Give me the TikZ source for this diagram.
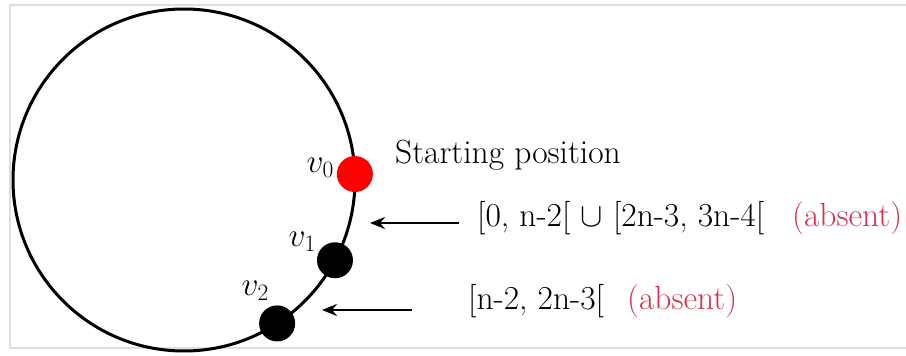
\RequirePackage{fix-cm}
\documentclass[tikz,border=0pt]{standalone}
\usetikzlibrary{arrows.meta}
\definecolor{absentred}{RGB}{218,48,78}
\definecolor{framegray}{RGB}{222,222,222}
\begin{document}
\begin{tikzpicture}[x=1pt,y=-1pt,
  dot/.style={circle,inner sep=0pt,minimum size=36pt},
  lbl/.style={font=\fontsize{33.5}{40}\selectfont,inner sep=0pt},
  arr/.style={line width=2.6pt,-{Stealth[length=15pt,width=12pt]}},
  ring/.style={circle,draw,line width=3pt,minimum size=342pt,inner sep=0pt,outer sep=0pt}]
\useasboundingbox (0,0) rectangle (906,356);
\draw[framegray,line width=1.2pt] (906,5) -- (10,5) -- (10,348) -- (906,348);
\node[ring] (ring) at (184,180) {};
\node[dot,fill=red] (v0) at (ring.2.4) {};
\node[dot,fill=black] (v1) at (ring.-28) {};
\node[dot,fill=black] (v2) at (ring.-57.9) {};
\node[lbl,anchor=base east] (l0) at (334,172) {$v_0$};
\node[lbl,anchor=base east] (l1) at (316,246) {$v_1$};
\node[lbl,anchor=base east] (l2) at (269,295) {$v_2$};
\node[lbl,anchor=base west] (start) at (395,163) {Starting position};
\node[lbl,anchor=base west] (t1) at (477,226) {[0, n-2[ $\cup$ [2n-3, 3n-4[};
\node[lbl,anchor=base west,text=absentred] (a1) at (792,226) {(absent)};
\node[lbl,anchor=base west] (t2) at (468,309) {[n-2, 2n-3[};
\node[lbl,anchor=base west,text=absentred] (a2) at (627,309) {(absent)};
\coordinate (p1s) at (459,223);
\coordinate (p1e) at (370,223);
\coordinate (p2s) at (412,310);
\coordinate (p2e) at (322,310);
\draw[arr] (p1s) -- (p1e);
\draw[arr] (p2s) -- (p2e);
\end{tikzpicture}
\end{document}
